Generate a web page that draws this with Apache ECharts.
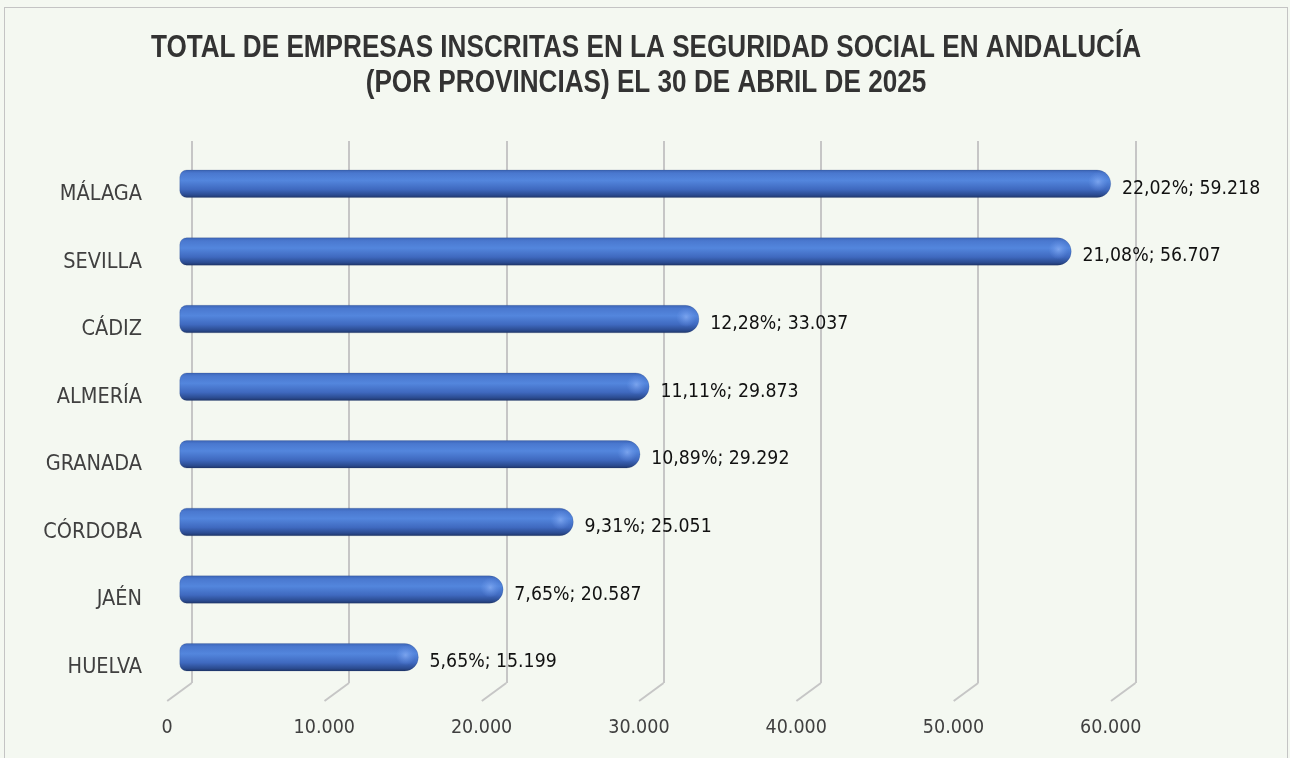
<!DOCTYPE html>
<html>
<head>
<meta charset="utf-8">
<script src="https://cdn.jsdelivr.net/npm/echarts@6/dist/echarts.min.js"></script>
<style>
html,body{margin:0;padding:0;background:#f4f8f1;}
#frame{position:absolute;left:4px;top:7px;width:1284px;height:760px;border:1px solid #c4c4c4;box-sizing:border-box;}
#c{position:absolute;left:0;top:0;width:1290px;height:758px;}
</style>
</head>
<body>
<div id="frame"></div>
<div id="c"></div>
<script>
const categories = ["MÁLAGA","SEVILLA","CÁDIZ","ALMERÍA","GRANADA","CÓRDOBA","JAÉN","HUELVA"];
const values = [59218, 56707, 33037, 29873, 29292, 25051, 20587, 15199];
const percents = ["22,02%","21,08%","12,28%","11,11%","10,89%","9,31%","7,65%","5,65%"];
const ticks = [0, 10000, 20000, 30000, 40000, 50000, 60000];
const titleLines = ["TOTAL DE EMPRESAS INSCRITAS EN LA SEGURIDAD SOCIAL EN ANDALUCÍA", "(POR PROVINCIAS) EL 30 DE ABRIL DE 2025"];

const FONT = '"DejaVu Sans Condensed","Liberation Sans",sans-serif';
const TFONT = '"Liberation Sans",Arial,sans-serif';
const fmt = v => String(v).replace(/\B(?=(\d{3})+(?!\d))/g, ".");
const W = 943.8;

const chart = echarts.init(document.getElementById('c'), null, {renderer: 'canvas'});
const revCats = categories.slice().reverse();
const revVals = values.slice().reverse();
const revPct = percents.slice().reverse();

chart.setOption({
  backgroundColor: 'transparent',
  graphic: titleLines.map((t, i) => ({
    type: 'text', x: 646, y: 48 + i * 35, scaleX: 0.843, silent: true,
    style: {text: t, fill: '#333333', font: 'bold 31px ' + TFONT, textAlign: 'center', textVerticalAlign: 'middle'}
  })),
  grid: [
    {left: 191.7, top: 141, width: W, height: 542},   // back wall
    {left: 179.5, top: 150, width: W, height: 541},   // bars
    {left: 167, top: 161, width: W, height: 540}      // front axis
  ],
  xAxis: [
    {gridIndex: 0, type: 'value', min: 0, max: 60000, interval: 10000,
     axisLine: {show: false}, axisTick: {show: false}, axisLabel: {show: false},
     splitLine: {show: true, lineStyle: {color: '#c6c6c6', width: 2}}},
    {gridIndex: 1, type: 'value', min: 0, max: 60000, interval: 10000,
     axisLine: {show: false}, axisTick: {show: false}, axisLabel: {show: false}, splitLine: {show: false}},
    {gridIndex: 2, type: 'value', min: 0, max: 60000, interval: 10000,
     axisLine: {show: false}, axisTick: {show: false}, splitLine: {show: false},
     axisLabel: {show: true, margin: 17, fontFamily: FONT, fontSize: 19.5, color: '#404040', formatter: v => fmt(v)}}
  ],
  yAxis: [
    {gridIndex: 0, type: 'value', min: 0, max: 1, show: false},
    {gridIndex: 1, type: 'category', data: revCats, show: false},
    {gridIndex: 2, type: 'category', data: revCats,
     axisLine: {show: false}, axisTick: {show: false}, splitLine: {show: false},
     axisLabel: {margin: 25, fontFamily: FONT, fontSize: 21.5, color: '#404040'}}
  ],
  series: [
    {
      type: 'custom', xAxisIndex: 0, yAxisIndex: 0, silent: true,
      data: ticks.map(t => [t, 0]),
      renderItem: function (params, api) {
        const p = api.coord([api.value(0), 0]);
        return {type: 'line', shape: {x1: p[0], y1: p[1], x2: p[0] - 24.5, y2: p[1] + 18},
                style: {stroke: '#c6c6c6', lineWidth: 2}};
      }
    },
    {
      type: 'bar', xAxisIndex: 1, yAxisIndex: 1,
      data: revVals, barWidth: 28,
      itemStyle: {
        borderRadius: [7, 14, 14, 7],
        borderColor: 'rgba(30,50,100,0.35)', borderWidth: 0.5,
        color: new echarts.graphic.LinearGradient(0, 0, 0, 1, [
          {offset: 0, color: '#3b63b4'},
          {offset: 0.12, color: '#4a78cf'},
          {offset: 0.38, color: '#5386dd'},
          {offset: 0.7, color: '#3f69bf'},
          {offset: 0.9, color: '#2b4b90'},
          {offset: 1, color: '#1e3466'}
        ])
      },
      label: {
        show: true, position: 'right', distance: 11, offset: [0, 5],
        fontFamily: FONT, fontSize: 19.3, color: '#111111',
        formatter: p => revPct[p.dataIndex] + '; ' + fmt(p.value)
      }
    },
    {
      type: 'custom', xAxisIndex: 1, yAxisIndex: 1, silent: true, z: 3,
      data: revVals.map((v, i) => [v, i]),
      renderItem: function (params, api) {
        const p = api.coord([api.value(0), api.value(1)]);
        return {type: 'circle', shape: {cx: p[0] - 13, cy: p[1] - 2, r: 10},
                style: {fill: new echarts.graphic.RadialGradient(0.5, 0.5, 0.5, [
                  {offset: 0, color: 'rgba(150,185,250,0.6)'},
                  {offset: 0.5, color: 'rgba(130,170,245,0.3)'},
                  {offset: 1, color: 'rgba(120,160,240,0)'}
                ])}};
      }
    }
  ]
});
</script>
</body>
</html>
